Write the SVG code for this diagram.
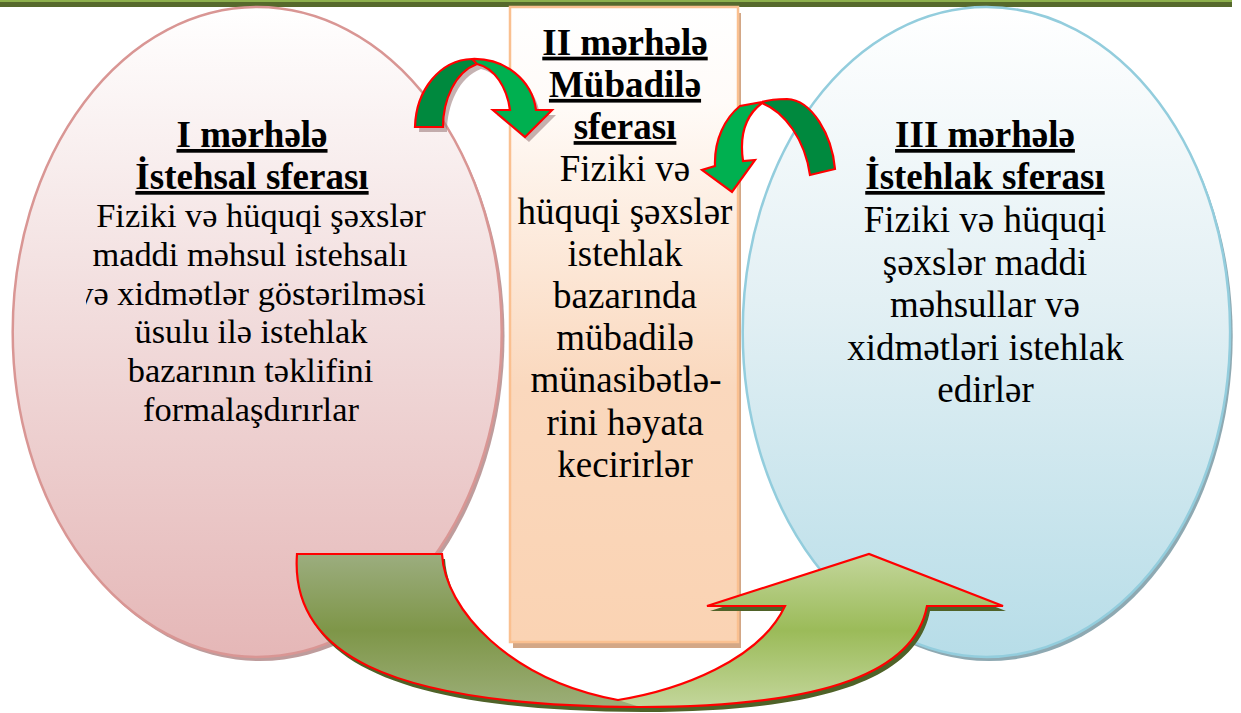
<svg xmlns="http://www.w3.org/2000/svg" width="1241" height="713" viewBox="0 0 1241 713">
<defs>
<linearGradient id="gL" x1="0" y1="0" x2="0" y2="1"><stop offset="0" stop-color="#FFFFFF"/><stop offset="0.45" stop-color="#F2DEDE"/><stop offset="1" stop-color="#E5B7B7"/></linearGradient>
<linearGradient id="gR" x1="0" y1="0" x2="0" y2="1"><stop offset="0" stop-color="#FFFFFF"/><stop offset="0.45" stop-color="#E3F0F4"/><stop offset="1" stop-color="#B7DDE8"/></linearGradient>
<linearGradient id="gM" x1="0" y1="0" x2="0" y2="1"><stop offset="0" stop-color="#FFFFFF"/><stop offset="0.15" stop-color="#FFFBF8"/><stop offset="0.6" stop-color="#FAD8BD"/><stop offset="1" stop-color="#FAD3B3"/></linearGradient>
<linearGradient id="gTail" gradientUnits="userSpaceOnUse" x1="0" y1="554" x2="0" y2="707"><stop offset="0" stop-color="#9CAD7F"/><stop offset="0.5" stop-color="#7E9648"/><stop offset="1" stop-color="#9CAE78"/></linearGradient>
<linearGradient id="gHead" gradientUnits="userSpaceOnUse" x1="0" y1="554" x2="0" y2="707"><stop offset="0" stop-color="#C3D69B"/><stop offset="0.5" stop-color="#9BBB59"/><stop offset="1" stop-color="#C3D69B"/></linearGradient>
<clipPath id="clipLine"><rect x="86" y="270" width="400" height="50"/></clipPath>
<style>
text{font-family:'Liberation Serif','Times New Roman',Tinos,'DejaVu Serif','Noto Serif',serif;fill:#000;text-anchor:middle}
.title{font-weight:bold;font-size:37px;text-decoration:underline}
.bodyL{font-size:34.4px}
.body{font-size:37px}
.arrowLine{stroke:#FF0000;stroke-width:2.2;stroke-linejoin:miter}
</style>
</defs>

<g id="topbar">
<rect x="0" y="0" width="1232" height="7" fill="#56692C"/>
<rect x="0" y="0" width="1232" height="2" fill="#8DB04C"/>
</g>

<g id="stage1" font-family="Liberation Serif, serif">
<ellipse cx="260" cy="336" rx="244.5" ry="325" fill="#BE9C9C"/>
<ellipse cx="257.2" cy="332" rx="244.5" ry="325" fill="url(#gL)" stroke="#D99694" stroke-width="2.5"/>
<text class="title" x="252" y="147">I mərhələ</text>
<text class="title" x="252" y="189">İstehsal sferası</text>
<text class="bodyL" x="261" y="227">Fiziki və hüquqi şəxslər</text>
<text class="bodyL" x="250" y="265.8">maddi məhsul istehsalı</text>
<text class="bodyL" x="251" y="304.6" clip-path="url(#clipLine)">və xidmətlər göstərilməsi</text>
<text class="bodyL" x="251" y="343.4">üsulu ilə istehlak</text>
<text class="bodyL" x="250.5" y="382.2">bazarının təklifini</text>
<text class="bodyL" x="251" y="421">formalaşdırırlar</text>
</g>

<g id="stage2">
<rect x="513" y="13" width="228" height="635" fill="#D3A786"/>
<rect x="510" y="7" width="228" height="635" fill="url(#gM)" stroke="#FAC090" stroke-width="2.5"/>
<text class="title" x="625" y="54.7">II mərhələ</text>
<text class="title" x="625" y="96.9">Mübadilə</text>
<text class="title" x="625" y="139.1">sferası</text>
<text class="body" x="625" y="181.3">Fiziki və</text>
<text class="body" x="625" y="223.5">hüquqi şəxslər</text>
<text class="body" x="625" y="265.7">istehlak</text>
<text class="body" x="625" y="307.9">bazarında</text>
<text class="body" x="625" y="350.1">mübadilə</text>
<text class="body" x="626" y="392.3">münasibətlə-</text>
<text class="body" x="625" y="434.5">rini həyata</text>
<text class="body" x="625" y="476.7">kecirirlər</text>
</g>

<g id="stage3">
<ellipse cx="989" cy="336" rx="243.7" ry="325" fill="#8EA9B2"/>
<ellipse cx="986.4" cy="332" rx="243.7" ry="325" fill="url(#gR)" stroke="#93CDDD" stroke-width="2.5"/>
<text class="title" x="985" y="147">III mərhələ</text>
<text class="title" x="985" y="189">İstehlak sferası</text>
<text class="body" x="985" y="232">Fiziki və hüquqi</text>
<text class="body" x="985" y="274.5">şəxslər maddi</text>
<text class="body" x="985" y="317">məhsullar və</text>
<text class="body" x="985.5" y="359.5">xidmətləri istehlak</text>
<text class="body" x="985.5" y="402">edirlər</text>
</g>

<g id="connectors">
<g id="arrow-1-2">
<path d="M419,132 C420,95 444,65 476,64 C509,63 536,85 540,115 L556,115 L529,142 L497,115 L514,115 C511,93 499,73 481,69 C459,77 447,105 447,132 Z" fill="#9E7F7F" opacity="0.6"/>
<path d="M415,127 C416,90 440,60 472,59 C505,58 532,80 536,110 L552,110 L525,137 L493,110 L510,110 C507,88 495,68 477,64 C455,72 443,100 443,127 Z" fill="#00B050"/>
<path d="M415,127 C416,90 440,60 472,59 L477,64 C455,72 443,100 443,127 Z" fill="#00893E"/>
<path class="arrowLine" fill="none" d="M415,127 C416,90 440,60 472,59 C505,58 532,80 536,110 L552,110 L525,137 L493,110 L510,110 C507,88 495,68 477,64 C455,72 443,100 443,127 Z M472,59 L477,64"/>
</g>
<g id="arrow-3-2">
<path d="M835,169 C832,135 812,100 787,99 C775,99 768,100 762,102 L740,106 C725,118 714,140 715,166 L702,170 L732,192 L755,160 L743,161 C740,140 742,118 762,103 C785,112 805,140 810,175 Z" fill="#00B050"/>
<path d="M835,169 C832,135 812,100 787,99 C775,99 768,100 762,102 L762,103 C785,112 805,140 810,175 Z" fill="#00893E"/>
<path class="arrowLine" fill="none" d="M835,169 C832,135 812,100 787,99 C775,99 768,100 762,102 L740,106 C725,118 714,140 715,166 L702,170 L732,192 L755,160 L743,161 C740,140 742,118 762,103 C785,112 805,140 810,175 Z"/>
</g>
<g id="arrow-1-3">
<path d="M300,559 L445,559 C448,615 513,685 621,705 C683,695 763,665 788,611 L710,611 L872,559 L1006,611 L930,611 C918,675 833,712 643,712 C383,711 293,655 300,559 Z" fill="#4F6228"/>
<path d="M297,554 L442,554 C445,610 510,680 618,700 C680,690 760,660 785,606 L707,606 L869,554 L1003,606 L927,606 C915,670 830,707 640,707 C380,706 290,650 297,554 Z" fill="url(#gHead)"/>
<path d="M297,554 L442,554 C445,610 510,680 618,700 L640,707 C380,706 290,650 297,554 Z" fill="url(#gTail)"/>
<path class="arrowLine" fill="none" stroke-width="2.6" d="M297,554 L442,554 C445,610 510,680 618,700 C680,690 760,660 785,606 L707,606 L869,554 L1003,606 L927,606 C915,670 830,707 640,707 C380,706 290,650 297,554 Z"/>
</g>
</g>
</svg>
